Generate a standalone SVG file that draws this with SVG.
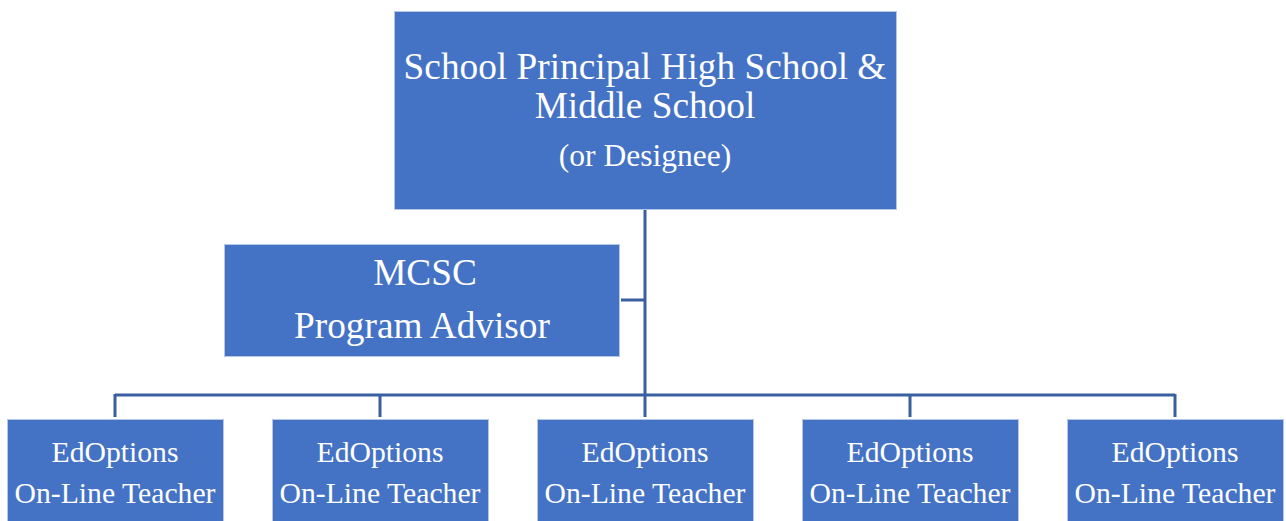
<svg xmlns="http://www.w3.org/2000/svg" width="1286" height="521" viewBox="0 0 1286 521">
<style>
.box{fill:#4472C4;stroke:#B4C7E7;stroke-width:1}
.t{font-family:"Liberation Serif","Times New Roman",serif;fill:#fff;text-anchor:middle}
.big{font-size:37.3px}
.sm{font-size:29.7px}
.conn{fill:none;stroke:#3A5FA0;stroke-width:3}
</style>
<rect width="1286" height="521" fill="#fff"/>
<g id="connectors">
<path class="conn" d="M645 209V395M621 300H645M115 395H1175M115 394V417M380 394V417M645 394V417M910 394V417M1175 394V417"/>
</g>
<g id="principal">
<rect class="box" x="394.5" y="11.5" width="502" height="198"/>
<text class="t big" x="645" y="79">School Principal High School &amp;</text>
<text class="t big" x="645" y="118">Middle School</text>
<text class="t" x="645" y="166" font-size="31.5">(or Designee)</text>
</g>
<g id="advisor">
<rect class="box" x="224.5" y="244.5" width="395" height="112"/>
<text class="t big" x="425" y="285">MCSC</text>
<text class="t big" x="422" y="338">Program Advisor</text>
</g>
<g id="teacher1">
<rect class="box" x="7.5" y="419.5" width="216" height="110"/>
<text class="t sm" x="115" y="462">EdOptions</text>
<text class="t sm" x="115" y="503">On-Line Teacher</text>
</g>
<g id="teacher2">
<rect class="box" x="272.5" y="419.5" width="216" height="110"/>
<text class="t sm" x="380" y="462">EdOptions</text>
<text class="t sm" x="380" y="503">On-Line Teacher</text>
</g>
<g id="teacher3">
<rect class="box" x="537.5" y="419.5" width="216" height="110"/>
<text class="t sm" x="645" y="462">EdOptions</text>
<text class="t sm" x="645" y="503">On-Line Teacher</text>
</g>
<g id="teacher4">
<rect class="box" x="802.5" y="419.5" width="216" height="110"/>
<text class="t sm" x="910" y="462">EdOptions</text>
<text class="t sm" x="910" y="503">On-Line Teacher</text>
</g>
<g id="teacher5">
<rect class="box" x="1067.5" y="419.5" width="216" height="110"/>
<text class="t sm" x="1175" y="462">EdOptions</text>
<text class="t sm" x="1175" y="503">On-Line Teacher</text>
</g>
</svg>
